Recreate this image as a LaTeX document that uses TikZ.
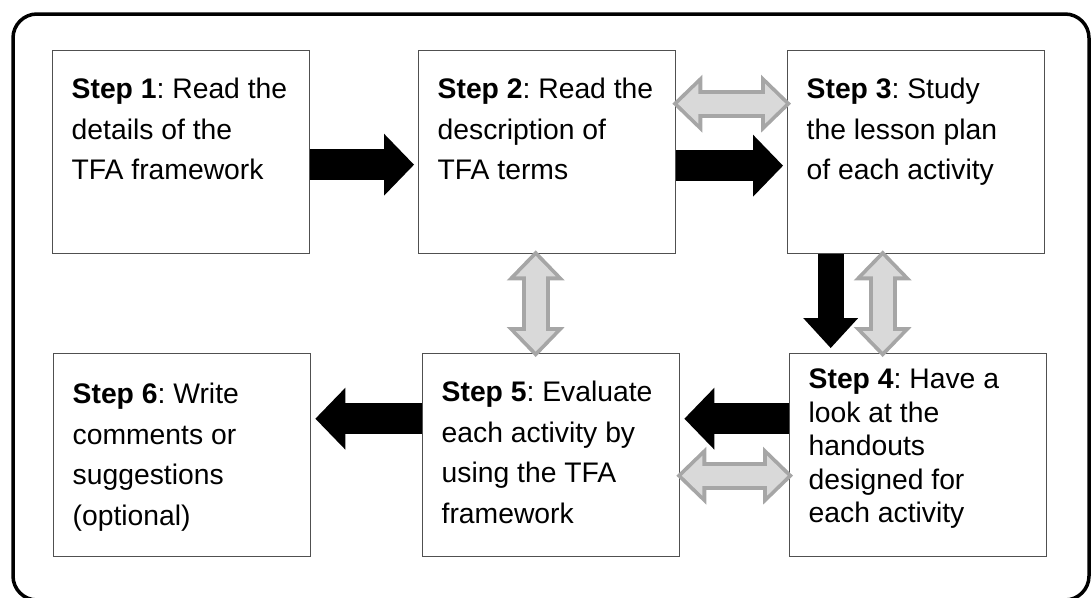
\documentclass[tikz,border=0pt]{standalone}
\usepackage{fontspec}
\setmainfont{Liberation Sans}
\usetikzlibrary{positioning,calc,arrows.meta}

\definecolor{boxline}{RGB}{80,80,80}
\definecolor{edgegrey}{RGB}{166,166,166}
\definecolor{palegrey}{RGB}{217,217,217}

\tikzset{
  stepbox/.style={draw=boxline, line width=1.4pt, anchor=north west,
    inner xsep=19pt, inner ysep=0pt, font=\fontsize{28.3pt}{40.5pt}\selectfont},
  oneway/.style={line width=31pt, shorten >=4pt,
    -{Triangle[length=30pt,width=62pt,line width=0pt]}},
  onedown/.style={line width=26pt, shorten >=5pt,
    -{Triangle[length=30pt,width=55pt,line width=0pt]}},
  twoway/.style={draw=palegrey, line width=20pt, shorten <=1.5pt, shorten >=1.5pt,
    {Triangle[length=20.5pt,width=40pt,line width=0pt]}-{Triangle[length=20.5pt,width=40pt,line width=0pt]},
    preaction={draw=edgegrey, line width=28pt, shorten <=-4pt, shorten >=-4pt,
      {Triangle[length=30pt,width=58pt,line width=0pt]}-{Triangle[length=30pt,width=58pt,line width=0pt]}}}
}

% text of a step, set from the top of its box
\newcommand{\steptext}[3][48pt]{\parbox[t][203pt][t]{219pt}{\frenchspacing\rule{0pt}{#1}\textbf{Step #2}: #3}}

\begin{document}
\begin{tikzpicture}[x=1pt,y=-1pt]
    \useasboundingbox (0,0) rectangle (1092,597);

    % Outer frame
    \draw[line width=3.5pt, rounded corners=24pt] (13,14) rectangle (1089,600);

    % Step boxes, top row left to right
    \node[stepbox, minimum width=257pt] (s1) at (52,50)
        {\steptext{1}{Read the\\details of the\\TFA framework}};
    \node[stepbox, minimum width=257pt] (s2) at (418,50)
        {\steptext{2}{Read the\\description of\\TFA terms}};
    \node[stepbox, minimum width=257pt] (s3) at (787,50)
        {\steptext{3}{Study\\the lesson plan\\of each activity}};

    % Step boxes, bottom row right to left
    \node[stepbox, minimum width=257pt, font=\fontsize{28.3pt}{33.5pt}\selectfont] (s4) at (789,353)
        {\steptext[35pt]{4}{Have a\\look at the\\handouts\\designed for\\each activity}};
    \node[stepbox, minimum width=257pt] (s5) at (422,353)
        {\steptext{5}{Evaluate\\each activity by\\using the TFA\\framework}};
    \node[stepbox, minimum width=257pt] (s6) at (53,353)
        {\steptext[50pt]{6}{Write\\comments or\\suggestions\\(optional)}};

    % Points where the vertical arrows leave the top row
    \coordinate (d34) at ([xshift=-85.5pt]s3.south);
    \coordinate (g34) at ([xshift=-33.5pt]s3.south);
    \coordinate (g25) at ([xshift=-11.5pt]s2.south);

    % Two-way grey arrows
    \draw[twoway] ($(s2.east)+(0,-48.5)$) -- ($(s3.west)+(0,-48.5)$);
    \draw[twoway] (g34) -- (g34 |- s4.north);
    \draw[twoway] (g25) -- (g25 |- s5.north);
    \draw[twoway] ($(s5.east)+(0,20.5)$) -- ($(s4.west)+(0,20.5)$);

    % One-way black arrows
    \draw[oneway] ($(s1.east)+(0,12.5)$) -- ($(s2.west)+(0,12.5)$);
    \draw[oneway] ($(s2.east)+(0,13.5)$) -- ($(s3.west)+(0,13.5)$);
    \draw[onedown] (d34) -- (d34 |- s4.north);
    \draw[oneway] ($(s4.west)+(0,-36.5)$) -- ($(s5.east)+(0,-36.5)$);
    \draw[oneway] ($(s5.west)+(0,-36.5)$) -- ($(s6.east)+(0,-36.5)$);

\end{tikzpicture}
\end{document}
